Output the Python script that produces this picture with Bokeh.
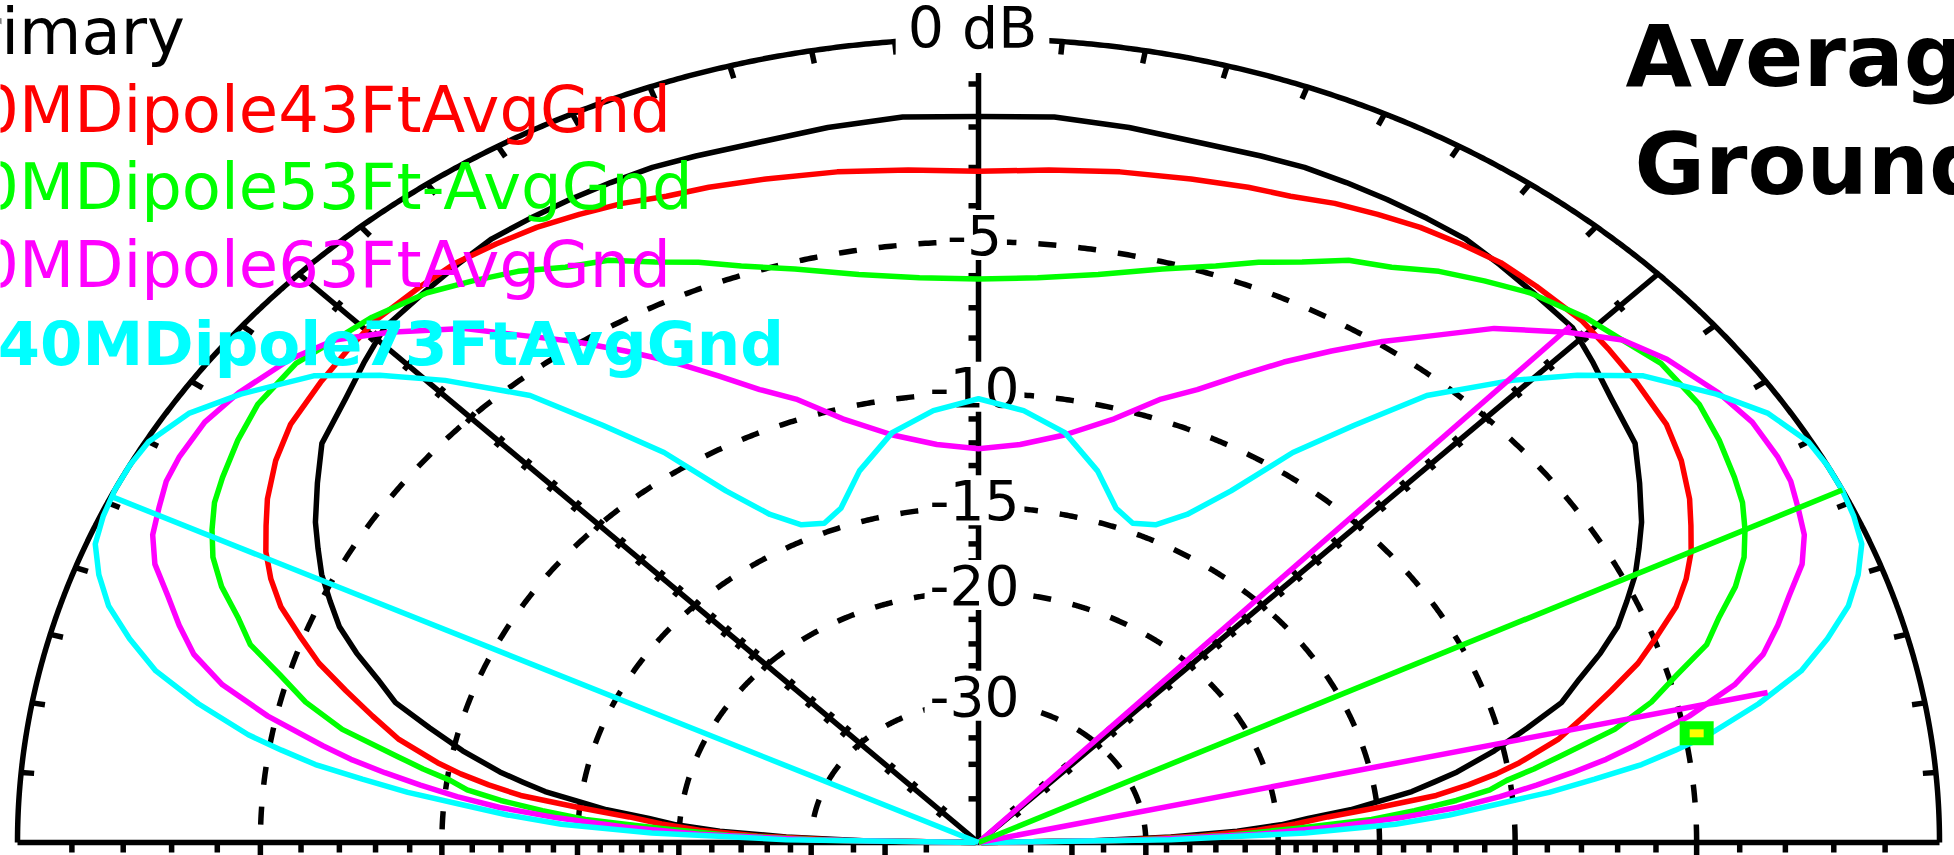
import numpy as np
from bokeh.plotting import figure
from bokeh.models import Range1d
from bokeh.core.properties import value
from bokeh.embed import file_html
from bokeh.resources import INLINE

# ---------------- data (elevation angle in degrees, gain in dB re 0 dB ring) ----------------
# patterns are symmetric about the zenith; values read for 0..90 deg and mirrored to 180
elev = [0, 1, 2, 3, 4, 5, 6, 7, 8, 9, 10, 12, 14, 16, 18, 20, 22, 24, 26, 28, 30,
        33, 36, 40, 43, 46, 50, 53, 56, 59, 62, 65, 68, 71, 75, 80, 85, 90]

primary_db = [-99, -36.4, -27.6, -22.5, -19.8, -18.3, -16.2, -14.9, -13.5, -12.6, -11.7,
              -10.3, -9.1, -7.9, -7.2, -6.4, -5.7, -5.2, -4.7, -4.3, -3.9,
              -3.4, -2.9, -2.6, -2.3, -2.0, -1.9, -1.8, -1.7, -1.7, -1.7, -1.7, -1.7,
              -1.75, -1.8, -1.75, -1.7, -1.75]
dip43_db = [-99, -33.7, -25.2, -21.2, -19.0, -17.3, -14.9, -12.6, -11.4, -10.4, -9.6,
            -8.3, -7.4, -6.5, -5.6, -4.9, -4.2, -3.7, -3.3, -3.0, -2.7,
            -2.35, -2.1, -1.95, -1.85, -1.75, -1.75, -1.75, -1.85, -1.95, -2.1, -2.25,
            -2.45, -2.55, -2.7, -2.85, -3.0, -3.1]
dip53_db = [-99, -31.5, -23.1, -19.0, -15.3, -13.5, -11.9, -10.7, -10.1, -9.2, -8.4,
            -6.7, -5.6, -4.8, -3.9, -3.4, -2.8, -2.35, -2.05, -1.8, -1.65,
            -1.45, -1.3, -1.3, -1.5, -1.65, -1.95, -2.3, -2.65, -3.1, -3.4, -3.9,
            -4.3, -4.75, -5.2, -5.7, -6.0, -6.1]
dip63_db = [-99, -30.4, -21.2, -17.1, -14.1, -11.9, -10.4, -9.2, -8.1, -7.1, -6.3,
            -4.8, -3.6, -2.8, -2.3, -1.85, -1.35, -1.05, -0.9, -0.75, -0.7,
            -0.7, -0.85, -1.15, -1.5, -2.15, -3.1, -4.05, -4.9, -5.8, -6.7, -7.65,
            -8.55, -9.25, -10.4, -11.4, -12.0, -12.25]
dip73_db = [-99, -27.6, -18.5, -14.3, -12.2, -10.6, -8.85, -7.5, -6.2, -5.3, -4.45,
            -3.2, -2.15, -1.45, -0.85, -0.45, -0.15, -0.05, 0.0, 0.0, -0.05,
            -0.35, -0.9, -1.75, -2.75, -3.85, -5.5, -7.4, -9.2, -11.55, -13.25, -14.25,
            -14.55, -14.1, -12.65, -11.3, -10.6, -10.2]

trace_names = ["Primary", "40MDipole43FtAvgGnd", "40MDipole53Ft-AvgGnd",
               "40MDipole63FtAvgGnd", "40MDipole73FtAvgGnd"]
trace_colors = ["#000000", "#FF0000", "#00FF00", "#FF00FF", "#00FFFF"]

# grid
ring_db = [-5, -10, -15, -20, -30]
ring_labels = ["-5", "-10", "-15", "-20", "-30"]
tick_db = [-1, -2, -3, -4, -5, -6, -7, -8, -9, -10, -11, -12, -13, -14, -15, -16, -17,
           -18, -19, -20, -22, -24, -26, -28, -30, -35, -40, -50]
long_tick_db = [-5, -10, -15, -20, -30, -40]
rim_tick_elev = [5, 10, 15, 20, 25, 30, 35, 40, 50, 55, 60, 65, 70, 75, 80, 85,
                 95, 100, 105, 110, 115, 120, 125, 130, 140, 145, 150, 155, 160,
                 165, 170, 175]
diag_radials = [45, 90, 135]

# beamwidth / cursor lines (elevation, dB at end) and cursor marker
magenta_bw_elev = [12.8, 46.2]
magenta_bw_db = [-2.95, -2.0]
green_cursor_elev = 26.0
cyan_cursor_elev = 154.5
cursor_end_db = 0.0
marker_elev = 10.3
marker_db = -4.72

title_lines = ["Average", "Ground"]

# ---------------- helpers ----------------
ARRL_STEP = 0.89  # ARRL log scale: radius x0.89 every 2 dB


def rad(db):
    return ARRL_STEP ** (-np.asarray(db, dtype=float) / 2.0)


def polar(elev_deg, db):
    r = rad(db)
    t = np.radians(np.asarray(elev_deg, dtype=float))
    return r * np.cos(t), r * np.sin(t)


def mirrored(el, db):
    a = list(el) + [180 - e for e in el[-2::-1]]
    d = list(db) + list(db[-2::-1])
    return polar(a, d)


# canvas-pixel layout of the polar frame (centre and radii of the 0 dB ring)
W, H = 1954, 855
CX, CY, RX, RY = 978.0, 842.0, 961.0, 804.0
BASE_SHIFT = 0.36  # em offset between requested and drawn alphabetic baseline


def ux(X):
    return (X - CX) / RX


def vy(Y):
    return (CY - Y) / RY


p = figure(width=W, height=H,
           x_range=Range1d(ux(0), ux(W)), y_range=Range1d(vy(H), vy(0)),
           output_backend="svg", toolbar_location=None,
           x_axis_location=None, y_axis_location=None,
           min_border=0, outline_line_color=None,
           background_fill_color="white", border_fill_color="white")
p.xgrid.grid_line_color = None
p.ygrid.grid_line_color = None

LW = 5.5
th = np.linspace(0, np.pi, 721)

# dashed dB rings
for db in ring_db:
    r = float(rad(db))
    p.line(r * np.cos(th), r * np.sin(th), line_color="black", line_width=LW,
           line_dash="18 22")
# 0 dB ring
p.line(np.cos(th), np.sin(th), line_color="black", line_width=LW)

# solid radials
for a in diag_radials:
    t = np.radians(a)
    p.line([0, np.cos(t)], [0, np.sin(t)], line_color="black", line_width=LW)
p.line([-1, 1], [0, 0], line_color="black", line_width=LW)

# ticks
xs, ys = [], []
for db in tick_db:
    r = float(rad(db))
    ln = 12 if db in long_tick_db else 7
    for s in (-1, 1):
        xs.append([s * r, s * r])
        ys.append([0, -(3 + ln) / RY])
    xs.append([0, -10 / RX])
    ys.append([r, r])
    for a in (45, 135):
        t = np.radians(a)
        px_, py_ = r * np.cos(t), r * np.sin(t)
        dx, dy = RX * np.cos(t), RY * np.sin(t)
        n = np.hypot(dx, dy)
        nx, ny = -dy / n, dx / n
        xs.append([px_ - nx * 6 / RX, px_ + nx * 6 / RX])
        ys.append([py_ - ny * 6 / RY, py_ + ny * 6 / RY])
for a in rim_tick_elev:
    t = np.radians(a)
    pr = np.hypot(RX * np.cos(t), RY * np.sin(t))
    r2 = 1 - 13 / pr
    xs.append([np.cos(t), r2 * np.cos(t)])
    ys.append([np.sin(t), r2 * np.sin(t)])
p.multi_line(xs, ys, line_color="black", line_width=LW)

# ring labels with white background
LAB_FS = 55
lab_x = [ux(974)] * len(ring_db)
lab_y = [float(rad(db)) - (13 - BASE_SHIFT * LAB_FS) / RY for db in ring_db]
p.text(x=lab_x, y=lab_y, text=ring_labels, text_font=value("DejaVu Sans"),
       text_font_size=f"{LAB_FS}px", text_color="black", text_align="center",
       text_baseline="alphabetic", background_fill_color="white", padding=5)
ZERO_FS = 57
p.text(x=[ux(972)], y=[vy(48 - BASE_SHIFT * ZERO_FS)], text=["0 dB"],
       text_font=value("DejaVu Sans"), text_font_size=f"{ZERO_FS}px",
       text_color="black", text_align="center", text_baseline="alphabetic",
       background_fill_color="white", padding=12)

# patterns
for db, col in zip([primary_db, dip43_db, dip53_db, dip63_db, dip73_db], trace_colors):
    x, y = mirrored(elev, db)
    p.line(x, y, line_color=col, line_width=LW, line_join="round")

# beamwidth / cursor lines
for e, d in zip(magenta_bw_elev, magenta_bw_db):
    x, y = polar([e], [d])
    p.line([0, x[0]], [0, y[0]], line_color="#FF00FF", line_width=LW)
x, y = polar([green_cursor_elev], [cursor_end_db])
p.line([0, x[0]], [0, y[0]], line_color="#00FF00", line_width=LW)
x, y = polar([cyan_cursor_elev], [cursor_end_db])
p.line([0, x[0]], [0, y[0]], line_color="#00FFFF", line_width=LW)

# cursor marker
mx, my = polar([marker_elev], [marker_db])
p.rect(mx, my, width=34, height=24, width_units="screen", height_units="screen",
       fill_color="#00FF00", line_color=None)
p.rect(mx, my, width=14, height=8, width_units="screen", height_units="screen",
       fill_color="#FFFF00", line_color=None)

# legend text
leg_base = [55, 133, 210, 288, 365]
for i, (name, col) in enumerate(zip(trace_names, trace_colors)):
    bold = (i == 4)
    fs = 61 if bold else 64
    X = -3 if bold else -63
    p.text(x=[ux(X)], y=[vy(leg_base[i] - BASE_SHIFT * fs)], text=[name],
           text_font=value("DejaVu Sans"), text_font_size=f"{fs}px",
           text_font_style="bold" if bold else "normal",
           text_color=col, text_align="left", text_baseline="alphabetic")

# title
TFS = 86
title_x = [1625, 1634]
title_base = [86, 194]
for txt, X, B in zip(title_lines, title_x, title_base):
    p.text(x=[ux(X)], y=[vy(B - BASE_SHIFT * TFS)], text=[txt],
           text_font=value("DejaVu Sans"), text_font_size=f"{TFS}px",
           text_font_style="bold", text_color="black", text_align="left",
           text_baseline="alphabetic")

open("out.html", "w").write(file_html(p, INLINE))
